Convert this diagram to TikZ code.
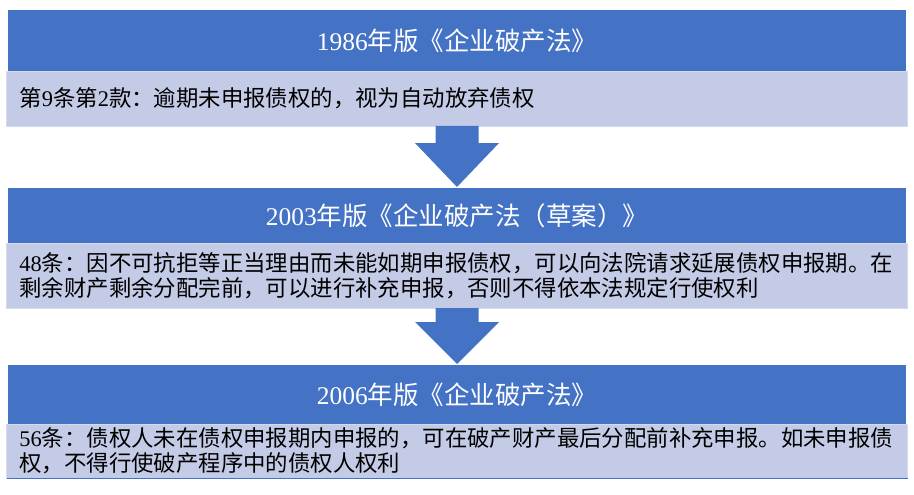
\documentclass[tikz,border=0pt]{standalone}
\usepackage{fontspec}
\usepackage{tikz}
\usepackage{xcolor}
\usetikzlibrary{positioning,calc}
\newfontfamily\cjk{Noto Sans CJK SC}
\newfontfamily\lat{Liberation Serif}
\definecolor{headblue}{HTML}{4472C4}
\definecolor{bodyblue}{HTML}{C3CBE6}
\definecolor{bodyedge}{HTML}{D3D9EE}

\begin{document}
\begin{tikzpicture}[x=1pt,y=1pt,
	head/.style={fill=headblue,text=white,minimum width=898pt,inner sep=0pt,outer sep=0pt,font=\cjk\fontsize{25.5}{30}\selectfont},
	body/.style={fill=bodyblue,draw=bodyedge,line width=0.8pt,text width=875pt,inner xsep=13pt,inner ysep=0pt,outer sep=0pt,align=left,font=\cjk\fontsize{22.4}{25}\selectfont}]
	\useasboundingbox (0,0) rectangle (914,-495);
	%% headers and bodies
	\node[head,minimum height=61pt] (h1) at (457,-40.5) {{\lat 1986}年版《企业破产法》};
	\node[body,minimum height=55pt,below=0pt of h1] (b1) {第{\lat 9}条第{\lat 2}款：逾期未申报债权的，视为自动放弃债权};
	\node[head,minimum height=55pt,below=62pt of b1] (h2) {{\lat 2003}年版《企业破产法（草案）》};
	\node[body,minimum height=65pt,below=0pt of h2] (b2) {{\lat 48}条：因不可抗拒等正当理由而未能如期申报债权，可以向法院请求延展债权申报期。在\\剩余财产剩余分配完前，可以进行补充申报，否则不得依本法规定行使权利};
	\node[head,minimum height=59pt,below=57pt of b2] (h3) {{\lat 2006}年版《企业破产法》};
	\node[body,minimum height=54pt,below=0pt of h3] (b3) {{\lat 56}条：债权人未在债权申报期内申报的，可在破产财产最后分配前补充申报。如未申报债\\权，不得行使破产程序中的债权人权利};
	\draw[headblue,line width=0.8pt] (b3.south west) -- (b3.south east);
	%% arrows
	\fill[headblue] ($(b1.south)+(-21.5,0)$) -- ++(0,-17) -- ++(-20.5,0) -- ($(h2.north)+(0,1)$) -- ($(b1.south)+(42,-17)$) -- ($(b1.south)+(21.5,-17)$) -- ($(b1.south)+(21.5,0)$) -- cycle;
	\fill[headblue] ($(b2.south)+(-21.5,0)$) -- ++(0,-14) -- ++(-20.5,0) -- ($(h3.north)+(0,1)$) -- ($(b2.south)+(42,-14)$) -- ($(b2.south)+(21.5,-14)$) -- ($(b2.south)+(21.5,0)$) -- cycle;
\end{tikzpicture}
\end{document}
